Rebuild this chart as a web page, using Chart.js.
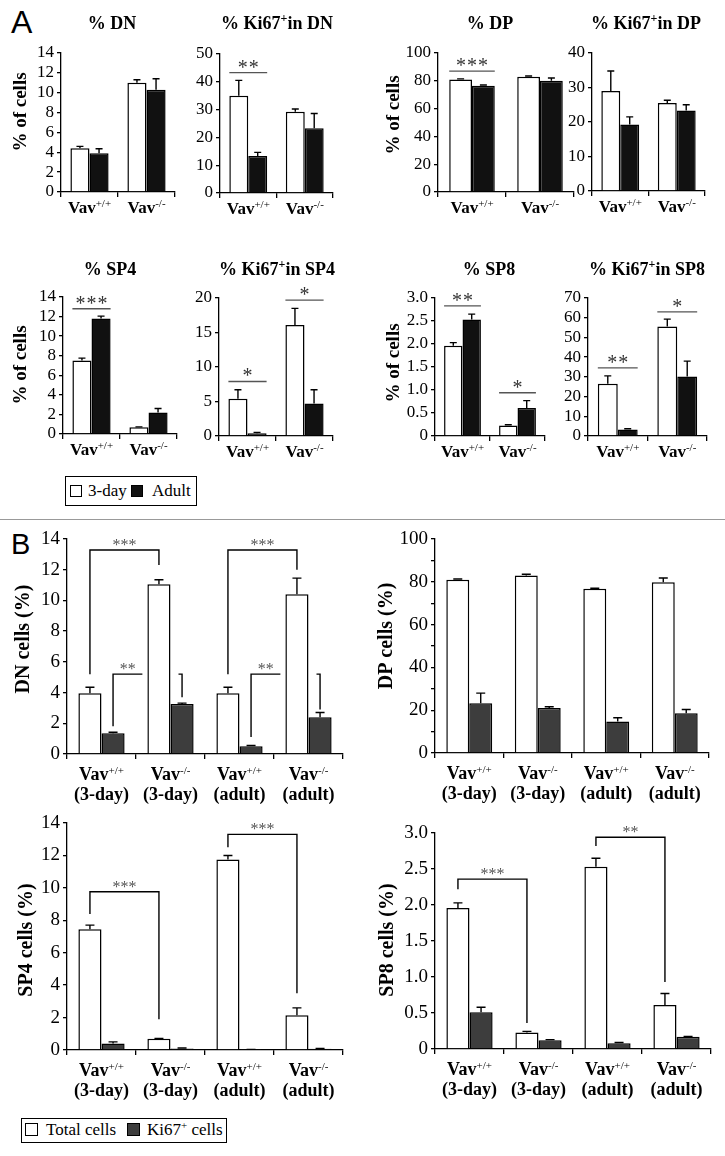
<!DOCTYPE html>
<html>
<head>
<meta charset="utf-8">
<script src="https://cdn.jsdelivr.net/npm/chart.js@4.4.0/dist/chart.umd.min.js"></script>
<style>
  body { margin: 0; background: #fff; }
  #fig { position: relative; width: 725px; height: 1156px; overflow: hidden; background: #fff;
         font-family: 'Liberation Serif', 'DejaVu Serif', serif; color: #000; }
  #fig canvas { position: absolute; }
  .pl { position: absolute; font-family: 'Liberation Sans', Arial, sans-serif; line-height: 1; }
  .box { position: absolute; box-sizing: border-box; border: 1.5px solid #000; }
  .sq { position: absolute; box-sizing: border-box; border: 1.5px solid #000; }
  .lt { position: absolute; font-size: 17px; line-height: 17px; white-space: nowrap; }
</style>
</head>
<body>
<div id="fig">
  <div class="pl" style="left:11px;top:6px;font-size:32px;">A</div>
  <div class="pl" style="left:11px;top:530px;font-size:29px;">B</div>
  <div style="position:absolute;left:0;top:519px;width:725px;height:1px;background:#999;"></div>

  <div class="box" style="left:65px;top:476px;width:132px;height:30px;"></div>
  <div class="sq" style="left:70px;top:485px;width:12px;height:12px;background:#fff;"></div>
  <div class="lt" style="left:88px;top:482px;">3-day</div>
  <div class="sq" style="left:131px;top:485px;width:12px;height:12px;background:#111;"></div>
  <div class="lt" style="left:152px;top:482px;">Adult</div>

  <div class="box" style="left:21px;top:1118px;width:206px;height:25px;"></div>
  <div class="sq" style="left:25px;top:1123px;width:13px;height:13px;background:#fff;"></div>
  <div class="lt" style="left:46px;top:1121px;">Total cells</div>
  <div class="sq" style="left:127px;top:1123px;width:13px;height:13px;background:#3d3d3d;"></div>
  <div class="lt" style="left:147px;top:1121px;">Ki67<sup style="font-size:11px;vertical-align:6px;line-height:0;">+</sup> cells</div>
</div>
<script>
// ---- data ----
const genotypes = ['+/+', '-/-'];
const genotypesB = ['+/+', '-/-', '+/+', '-/-'];
const agesB = ['(3-day)', '(3-day)', '(adult)', '(adult)'];

// panel A: 3-day (white) vs adult (black)
const dnDay3 = [4.4, 11.0],   dnDay3Err = [0.2, 0.3];
const dnAdult = [3.9, 10.3],  dnAdultErr = [0.45, 1.1];
const kiDnDay3 = [35.0, 29.2], kiDnDay3Err = [5.5, 1.0];
const kiDnAdult = [13.3, 23.3], kiDnAdultErr = [1.3, 5.3];
const dpDay3 = [81.0, 83.0],  dpDay3Err = [0.4, 0.5];
const dpAdult = [76.5, 80.0], dpAdultErr = [0.5, 2.0];
const kiDpDay3 = [29.0, 25.5], kiDpDay3Err = [5.8, 0.8];
const kiDpAdult = [19.3, 23.3], kiDpAdultErr = [2.2, 1.7];
const sp4Day3 = [7.5, 0.7],   sp4Day3Err = [0.25, 0.03];
const sp4Adult = [11.8, 2.2], sp4AdultErr = [0.25, 0.4];
const kiSp4Day3 = [5.4, 16.1], kiSp4Day3Err = [1.3, 2.4];
const kiSp4Adult = [0.4, 4.7], kiSp4AdultErr = [0.12, 2.0];
const sp8Day3 = [1.96, 0.23], sp8Day3Err = [0.07, 0.015];
const sp8Adult = [2.53, 0.61], sp8AdultErr = [0.12, 0.16];
const kiSp8Day3 = [26.5, 55.5], kiSp8Day3Err = [4.0, 3.8];
const kiSp8Adult = [3.3, 30.2], kiSp8AdultErr = [0.4, 7.8];

// panel B: total cells (white) vs Ki67+ cells (grey)
const dnTotal = [3.95, 11.05, 3.95, 10.4], dnTotalErr = [0.4, 0.3, 0.4, 1.05];
const dnKi = [1.35, 3.25, 0.5, 2.4],       dnKiErr = [0.07, 0.06, 0.05, 0.3];
const dpTotal = [81.0, 83.0, 76.7, 79.8],  dpTotalErr = [0.3, 0.5, 0.3, 2.0];
const dpKi = [23.3, 21.0, 14.7, 18.6],     dpKiErr = [4.7, 0.6, 1.8, 1.7];
const sp4Total = [7.45, 0.7, 11.75, 2.15], sp4TotalErr = [0.25, 0.02, 0.25, 0.45];
const sp4Ki = [0.4, 0.1, 0.03, 0.07],      sp4KiErr = [0.1, 0.02, 0.01, 0.02];
const sp8Total = [1.96, 0.23, 2.53, 0.61], sp8TotalErr = [0.07, 0.015, 0.12, 0.16];
const sp8Ki = [0.51, 0.12, 0.08, 0.17],    sp8KiErr = [0.07, 0.01, 0.01, 0.005];

const SERIF = "'Liberation Serif', 'DejaVu Serif', serif";
Chart.defaults.font.family = SERIF;
const fig = document.getElementById('fig');
const specs = new Map();

function richW(ctx, parts) {
  let w = 0;
  parts.forEach(p => { ctx.font = p.f; w += ctx.measureText(p.t).width; });
  return w;
}
function drawRich(ctx, parts, cx, y) {
  let x = cx - richW(ctx, parts) / 2;
  ctx.textAlign = 'left';
  ctx.textBaseline = 'alphabetic';
  parts.forEach(p => {
    ctx.font = p.f;
    ctx.fillText(p.t, x, y - (p.dy || 0));
    x += ctx.measureText(p.t).width;
  });
}
function drawStars(ctx, s, cx, y, font, pitch, color) {
  ctx.font = font;
  ctx.fillStyle = color;
  ctx.textAlign = 'center';
  ctx.textBaseline = 'alphabetic';
  for (let i = 0; i < s.length; i++) {
    ctx.fillText(s[i], cx + (i - (s.length - 1) / 2) * pitch, y);
  }
}
function titleParts(a, b) {
  const f = 'bold 18px ' + SERIF;
  if (b === undefined) return [{ t: a, f }];
  return [{ t: a, f }, { t: '+', f: 'bold 12px ' + SERIF, dy: 7 }, { t: b, f }];
}

const decor = {
  id: 'decor',
  afterDatasetsDraw(chart) {
    const s = specs.get(chart.canvas);
    const ctx = chart.ctx, ys = chart.scales.y;
    ctx.save();
    // error bars (upper only)
    ctx.strokeStyle = '#000';
    ctx.lineWidth = 1.4;
    [s.wErr, s.dErr].forEach((errs, di) => {
      const meta = chart.getDatasetMeta(di);
      meta.data.forEach((bar, j) => {
        const v = chart.data.datasets[di].data[j];
        const yt = ys.getPixelForValue(v + errs[j]);
        ctx.beginPath();
        ctx.moveTo(bar.x, bar.y);
        ctx.lineTo(bar.x, yt);
        ctx.moveTo(bar.x - s.cap / 2, yt);
        ctx.lineTo(bar.x + s.cap / 2, yt);
        ctx.stroke();
      });
    });
    // significance lines (panel A)
    (s.sig || []).forEach(g => {
      const a = chart.getDatasetMeta(0).data[g.g], b = chart.getDatasetMeta(1).data[g.g];
      const x1 = a.x - a.width / 2, x2 = b.x + b.width / 2, y = ys.getPixelForValue(g.v);
      ctx.strokeStyle = '#555';
      ctx.lineWidth = 1.3;
      ctx.beginPath(); ctx.moveTo(x1, y); ctx.lineTo(x2, y); ctx.stroke();
      drawStars(ctx, g.s, (x1 + x2) / 2, y + 1, '20px ' + SERIF, 11, '#333');
    });
    // brackets (panel B)
    (s.br || []).forEach(b => {
      const A = chart.getDatasetMeta(b.a[0]).data[b.a[1]];
      const B = chart.getDatasetMeta(b.b[0]).data[b.b[1]];
      const xa = A.x, xb = B.x;
      const y = ys.getPixelForValue(b.v), ya = ys.getPixelForValue(b.va), yb = ys.getPixelForValue(b.vb);
      let sx = (xa + xb) / 2;
      ctx.strokeStyle = '#000';
      ctx.lineWidth = 1.4;
      ctx.beginPath();
      ctx.moveTo(xa, ya); ctx.lineTo(xa, y);
      if (b.gap) {
        const G = chart.getDatasetMeta(b.gap[0]).data[b.gap[1]];
        const g1 = G.x - G.width / 2 - 5, g2 = G.x + G.width / 2 + 8;
        ctx.lineTo(g1, y); ctx.moveTo(g2, y); ctx.lineTo(xb, y);
        sx = (xa + g1) / 2;
      } else {
        ctx.lineTo(xb, y);
      }
      ctx.lineTo(xb, yb);
      ctx.stroke();
      drawStars(ctx, b.s, sx, y, '16px ' + SERIF, 8, '#555');
    });
    ctx.restore();
  },
  afterDraw(chart) {
    const s = specs.get(chart.canvas);
    const ctx = chart.ctx, xs = chart.scales.x, area = chart.chartArea;
    ctx.save();
    ctx.fillStyle = '#000';
    if (s.title) drawRich(ctx, s.title, s.titleX - s.ox, s.titleY - s.oy);
    if (s.yTitle) {
      ctx.save();
      ctx.translate(s.yTitleX - s.ox, s.yTitleY - s.oy);
      ctx.rotate(-Math.PI / 2);
      ctx.font = 'bold ' + s.yTitleSize + 'px ' + SERIF;
      ctx.textAlign = 'center';
      ctx.textBaseline = 'middle';
      ctx.fillText(s.yTitle, 0, 0);
      ctx.restore();
    }
    s.geno.forEach((g, i) => {
      const x = xs.getPixelForValue(i);
      drawRich(ctx, [
        { t: 'Vav', f: 'bold ' + s.labSize + 'px ' + SERIF },
        { t: g, f: '11px ' + SERIF, dy: 6 }
      ], x, area.bottom + s.lab1);
      if (s.age) {
        drawRich(ctx, [{ t: s.age[i], f: 'bold ' + s.labSize + 'px ' + SERIF }], x, area.bottom + s.lab2);
      }
    });
    ctx.restore();
  }
};

function makeChart(s) {
  const YW = 42, PL = 18, PT = 50, PR = 8, XH = 62;
  const left = s.ax - PL - YW, top = s.top - PT;
  const w = s.right - s.ax + PL + YW + PR;
  const h = s.bot - s.top + PT + XH;
  const cv = document.createElement('canvas');
  cv.width = w; cv.height = h;
  cv.style.left = left + 'px'; cv.style.top = top + 'px';
  cv.style.width = w + 'px'; cv.style.height = h + 'px';
  fig.appendChild(cv);
  s.ox = left; s.oy = top;
  specs.set(cv, s);
  new Chart(cv, {
    type: 'bar',
    data: {
      labels: s.geno.map((g, i) => 'Vav' + g + (s.age ? ' ' + s.age[i] : '')),
      datasets: [
        { data: s.white, backgroundColor: '#fff', borderColor: '#000', borderWidth: 1.5 },
        { data: s.dark, backgroundColor: s.darkColor, borderColor: '#000', borderWidth: 1.5 }
      ]
    },
    options: {
      responsive: false,
      animation: false,
      devicePixelRatio: 1,
      layout: { padding: { left: PL, top: PT, right: PR, bottom: 0 } },
      plugins: { legend: { display: false }, tooltip: { enabled: false } },
      datasets: { bar: { categoryPercentage: 0.67, barPercentage: 1 } },
      scales: {
        x: {
          grid: { display: true, drawOnChartArea: false, drawTicks: true, tickLength: 5,
                  color: '#000', lineWidth: 1.3, offset: true },
          border: { display: true, color: '#000', width: 1.3 },
          ticks: { display: false },
          afterFit: sc => { sc.height = XH; }
        },
        y: {
          min: 0,
          max: s.max,
          ticks: {
            stepSize: s.step,
            autoSkip: false,
            color: '#000',
            padding: 3,
            font: { family: SERIF, size: s.tickSize },
            callback: s.fmt || (v => v)
          },
          grid: { drawOnChartArea: false, tickLength: 4, color: '#000', lineWidth: 1.3 },
          border: { display: true, color: '#000', width: 1.3 },
          afterFit: sc => { sc.width = YW; }
        }
      }
    },
    plugins: [decor]
  });
}

const oneDec = v => (v === 0 ? '0' : v.toFixed(1));
const A = { geno: genotypes, darkColor: '#111', cap: 7, tickSize: 17, labSize: 17, lab1: 21, yTitleSize: 19 };
const B = { geno: genotypesB, age: agesB, darkColor: '#3d3d3d', cap: 9, tickSize: 19, labSize: 18, lab1: 26, lab2: 46, yTitleSize: 20 };

makeChart({ ...A, ax: 61, top: 53, bot: 192, right: 175, max: 14, step: 2,
  white: dnDay3, wErr: dnDay3Err, dark: dnAdult, dErr: dnAdultErr,
  title: titleParts('% DN'), titleX: 112, titleY: 29, yTitle: '% of cells', yTitleX: 21, yTitleY: 112 });
makeChart({ ...A, ax: 220, top: 54, bot: 193, right: 333, max: 50, step: 10,
  white: kiDnDay3, wErr: kiDnDay3Err, dark: kiDnAdult, dErr: kiDnAdultErr,
  title: titleParts('% Ki67', 'in DN'), titleX: 277, titleY: 29,
  sig: [{ g: 0, v: 43.3, s: '**' }] });
makeChart({ ...A, ax: 438, top: 53, bot: 192, right: 574, max: 100, step: 20,
  white: dpDay3, wErr: dpDay3Err, dark: dpAdult, dErr: dpAdultErr,
  title: titleParts('% DP'), titleX: 490, titleY: 29, yTitle: '% of cells', yTitleX: 394, yTitleY: 115,
  sig: [{ g: 0, v: 87, s: '***' }] });
makeChart({ ...A, ax: 592, top: 53, bot: 191, right: 705, max: 40, step: 10,
  white: kiDpDay3, wErr: kiDpDay3Err, dark: kiDpAdult, dErr: kiDpAdultErr,
  title: titleParts('% Ki67', 'in DP'), titleX: 646, titleY: 29 });
makeChart({ ...A, ax: 63, top: 297, bot: 434, right: 177, max: 14, step: 2,
  white: sp4Day3, wErr: sp4Day3Err, dark: sp4Adult, dErr: sp4AdultErr,
  title: titleParts('% SP4'), titleX: 110, titleY: 275, yTitle: '% of cells', yTitleX: 21, yTitleY: 365,
  sig: [{ g: 0, v: 12.8, s: '***' }] });
makeChart({ ...A, ax: 219, top: 298, bot: 436, right: 333, max: 20, step: 5,
  white: kiSp4Day3, wErr: kiSp4Day3Err, dark: kiSp4Adult, dErr: kiSp4AdultErr,
  title: titleParts('% Ki67', 'in SP4'), titleX: 277, titleY: 275,
  sig: [{ g: 0, v: 7.9, s: '*' }, { g: 1, v: 19.7, s: '*' }] });
makeChart({ ...A, ax: 435, top: 298, bot: 436, right: 545, max: 3, step: 0.5, fmt: oneDec,
  white: sp8Day3, wErr: sp8Day3Err, dark: sp8Adult, dErr: sp8AdultErr,
  title: titleParts('% SP8'), titleX: 489, titleY: 275, yTitle: '% of cells', yTitleX: 394, yTitleY: 363,
  sig: [{ g: 0, v: 2.83, s: '**' }, { g: 1, v: 0.94, s: '*' }] });
makeChart({ ...A, ax: 588, top: 298, bot: 436, right: 707, max: 70, step: 10,
  white: kiSp8Day3, wErr: kiSp8Day3Err, dark: kiSp8Adult, dErr: kiSp8AdultErr,
  title: titleParts('% Ki67', 'in SP8'), titleX: 647, titleY: 275,
  sig: [{ g: 0, v: 34.6, s: '**' }, { g: 1, v: 63, s: '*' }] });

makeChart({ ...B, ax: 67, top: 539, bot: 754, right: 343, max: 14, step: 2,
  white: dnTotal, wErr: dnTotalErr, dark: dnKi, dErr: dnKiErr,
  yTitle: 'DN cells (%)', yTitleX: 24, yTitleY: 639,
  br: [
    { a: [0, 0], b: [0, 1], v: 13.28, va: 5.2, vb: 12.3, s: '***' },
    { a: [0, 2], b: [0, 3], v: 13.28, va: 5.2, vb: 12.0, s: '***' },
    { a: [1, 0], b: [1, 1], v: 5.2, va: 1.8, vb: 3.7, s: '**', gap: [0, 1] },
    { a: [1, 2], b: [1, 3], v: 5.2, va: 1.1, vb: 2.9, s: '**', gap: [0, 3] }
  ] });
makeChart({ ...B, ax: 435, top: 539, bot: 753, right: 709, max: 100, step: 10,
  fmt: v => (v % 20 === 0 ? v : ''),
  white: dpTotal, wErr: dpTotalErr, dark: dpKi, dErr: dpKiErr,
  yTitle: 'DP cells (%)', yTitleX: 387, yTitleY: 636 });
makeChart({ ...B, ax: 67, top: 823, bot: 1050, right: 343, max: 14, step: 2,
  white: sp4Total, wErr: sp4TotalErr, dark: sp4Ki, dErr: sp4KiErr,
  yTitle: 'SP4 cells (%)', yTitleX: 27, yTitleY: 940,
  br: [
    { a: [0, 0], b: [0, 1], v: 9.76, va: 8.39, vb: 1.9, s: '***' },
    { a: [0, 2], b: [0, 3], v: 13.3, va: 12.5, vb: 3.5, s: '***' }
  ] });
makeChart({ ...B, ax: 435, top: 833, bot: 1049, right: 711, max: 3, step: 0.5, fmt: oneDec,
  white: sp8Total, wErr: sp8TotalErr, dark: sp8Ki, dErr: sp8KiErr,
  yTitle: 'SP8 cells (%)', yTitleX: 388, yTitleY: 940,
  br: [
    { a: [0, 0], b: [0, 1], v: 2.36, va: 2.22, vb: 0.36, s: '***' },
    { a: [0, 2], b: [0, 3], v: 2.94, va: 2.82, vb: 0.93, s: '**' }
  ] });
</script>
</body>
</html>
